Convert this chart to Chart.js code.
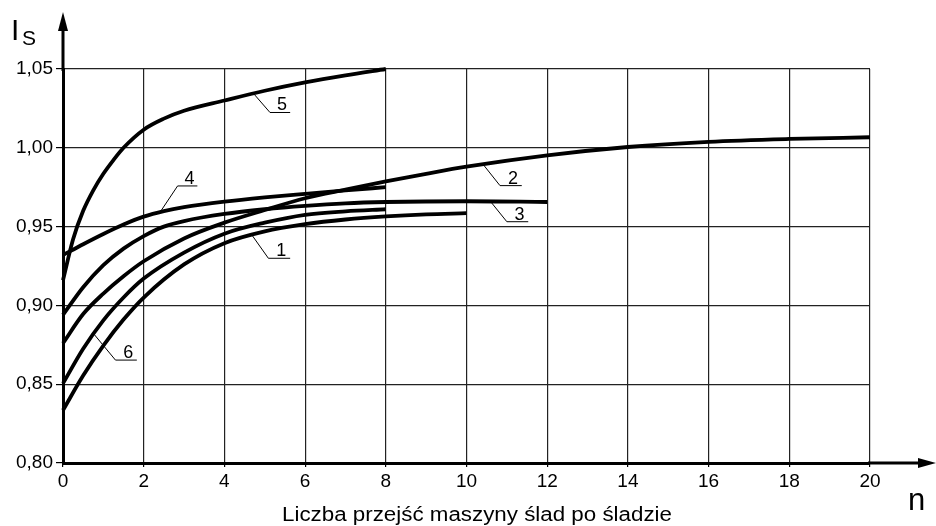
<!DOCTYPE html>
<html><head><meta charset="utf-8">
<script src="https://cdn.jsdelivr.net/npm/chart.js@4/dist/chart.umd.min.js"></script>
<style>html,body{margin:0;padding:0;background:#fff}</style>
</head><body>
<canvas id="c" width="936" height="526"></canvas>
<script>
// ---- data ----
const xTicks = [0, 2, 4, 6, 8, 10, 12, 14, 16, 18, 20];
const yTicks = [0.80, 0.85, 0.90, 0.95, 1.00, 1.05];
const yTickLabels = ['0,80', '0,85', '0,90', '0,95', '1,00', '1,05'];
const xTitle = 'Liczba przejść maszyny ślad po śladzie';
const yName = 'I', ySub = 'S', xName = 'n';

const n1 = [0, 0.5, 1, 1.5, 2, 3, 4, 5, 6, 7, 8, 9, 10];
const s1 = [0.8335, 0.8555, 0.8745, 0.891, 0.905, 0.926, 0.9395, 0.947, 0.9515, 0.9545, 0.9565, 0.9578, 0.9585];
const n2 = [0, 0.5, 1, 1.5, 2, 3, 4, 5, 6, 7, 8, 9, 10, 12, 14, 16, 18, 20];
const s2 = [0.876, 0.8945, 0.9075, 0.9185, 0.928, 0.9425, 0.9525, 0.9605, 0.968, 0.9735, 0.9787, 0.9835, 0.988, 0.9952, 1.0005, 1.0038, 1.0056, 1.0067];
const n3 = [0, 0.5, 1, 1.5, 2, 2.5, 3, 4, 5, 6, 7, 8, 10, 12];
const s3 = [0.894, 0.9115, 0.9255, 0.936, 0.944, 0.950, 0.9535, 0.958, 0.961, 0.9632, 0.9648, 0.9656, 0.9661, 0.9656];
const n4 = [0, 0.5, 1, 1.5, 2, 2.5, 3, 4, 5, 6, 7, 8];
const s4 = [0.932, 0.9388, 0.9453, 0.9513, 0.9563, 0.9598, 0.9623, 0.9658, 0.9685, 0.9708, 0.973, 0.975];
const n5 = [0, 0.25, 0.5, 0.75, 1, 1.25, 1.5, 2, 2.5, 3, 4, 5, 6, 7, 8];
const s5 = [0.916, 0.942, 0.960, 0.973, 0.9835, 0.9922, 1.0, 1.0115, 1.0185, 1.0235, 1.030, 1.0362, 1.0415, 1.046, 1.050];
const n6 = [0, 0.5, 1, 1.5, 2, 3, 4, 5, 6, 7, 8];
const s6 = [0.8505, 0.8725, 0.8905, 0.905, 0.917, 0.9335, 0.9455, 0.9525, 0.9575, 0.9597, 0.961];

// curve callouts (label, point on curve, elbow, end of underline) in data units
const callouts = [
  {text: '5', from: [4.72, 1.0345], elbow: [5.13, 1.0224], end: 5.63},
  {text: '4', from: [2.41, 0.9593], elbow: [2.84, 0.9758], end: 3.33},
  {text: '2', from: [10.42, 0.9892], elbow: [10.83, 0.976], end: 11.37},
  {text: '3', from: [10.59, 0.9661], elbow: [11.0, 0.9531], end: 11.53},
  {text: '1', from: [4.68, 0.9447], elbow: [5.09, 0.9299], end: 5.63},
  {text: '6', from: [0.76, 0.882], elbow: [1.30, 0.8653], end: 1.83}
];

const FONT = "'Liberation Sans', Arial, sans-serif";
const pts = (xs, ys) => xs.map((x, i) => ({x: x, y: ys[i]}));
const series = [[n1, s1], [n2, s2], [n3, s3], [n4, s4], [n5, s5], [n6, s6]];

const decor = {
  id: 'decor',
  afterDraw(chart) {
    const ctx = chart.ctx, a = chart.chartArea;
    const xs = chart.scales.x, ys = chart.scales.y;
    ctx.save();
    ctx.strokeStyle = '#000'; ctx.fillStyle = '#000';
    // axis extensions with arrows
    ctx.lineWidth = 3;
    ctx.beginPath();
    ctx.moveTo(a.right - 2, a.bottom); ctx.lineTo(922, a.bottom);
    ctx.moveTo(a.left, a.top + 2); ctx.lineTo(a.left, 26);
    ctx.stroke();
    ctx.beginPath();
    ctx.moveTo(936, a.bottom); ctx.lineTo(918, a.bottom - 5); ctx.lineTo(918, a.bottom + 5); ctx.closePath();
    ctx.fill();
    ctx.beginPath();
    ctx.moveTo(a.left, 12); ctx.lineTo(a.left - 5, 31); ctx.lineTo(a.left + 5, 31); ctx.closePath();
    ctx.fill();
    // axis names
    ctx.textBaseline = 'alphabetic'; ctx.textAlign = 'left';
    ctx.font = '30px ' + FONT; ctx.fillText(yName, 11, 40);
    ctx.font = '21px ' + FONT; ctx.fillText(ySub, 22, 45);
    ctx.font = '31px ' + FONT; ctx.fillText(xName, 908, 510);
    // x title, stretched to the reference width
    ctx.font = '19.5px ' + FONT;
    const w = ctx.measureText(xTitle).width;
    const k = 390 / w;
    ctx.save();
    ctx.translate(282, 521);
    ctx.scale(k, 1);
    ctx.fillText(xTitle, 0, 0);
    ctx.restore();
    // callouts
    ctx.lineWidth = 1;
    ctx.font = '18px ' + FONT;
    ctx.textAlign = 'center';
    callouts.forEach(c => {
      const fx = xs.getPixelForValue(c.from[0]), fy = ys.getPixelForValue(c.from[1]);
      const ex = xs.getPixelForValue(c.elbow[0]), ey = ys.getPixelForValue(c.elbow[1]);
      const rx = xs.getPixelForValue(c.end);
      ctx.beginPath();
      ctx.moveTo(fx, fy); ctx.lineTo(ex, ey); ctx.lineTo(rx, ey);
      ctx.stroke();
      ctx.fillText(c.text, (ex + rx) / 2 + 2, ey - 2);
    });
    ctx.restore();
  }
};

new Chart(document.getElementById('c'), {
  type: 'line',
  data: {
    datasets: series.map(s => ({
      data: pts(s[0], s[1]),
      borderColor: '#000', borderWidth: 3.8,
      pointRadius: 0, cubicInterpolationMode: 'monotone',
      fill: false, clip: false
    }))
  },
  options: {
    responsive: false, animation: false, devicePixelRatio: 1,
    layout: {padding: {left: 0, right: 66, top: 69, bottom: 0}},
    plugins: {legend: {display: false}, tooltip: {enabled: false}},
    scales: {
      x: {
        type: 'linear', min: 0, max: 20,
        afterBuildTicks: s => { s.ticks = xTicks.map(v => ({value: v})); },
        afterFit: s => { s.height = 63; },
        grid: {color: '#222', lineWidth: 1.2, tickLength: 4, tickColor: '#000'},
        border: {color: '#000', width: 3},
        ticks: {color: '#000', font: {family: FONT, size: 19}, padding: 3, maxRotation: 0, autoSkip: false}
      },
      y: {
        type: 'linear', min: 0.8, max: 1.05,
        afterBuildTicks: s => { s.ticks = yTicks.map(v => ({value: v})); },
        afterFit: s => { s.width = 63; },
        grid: {color: '#222', lineWidth: 1.2, tickLength: 7, tickColor: '#000'},
        border: {color: '#000', width: 3},
        ticks: {color: '#000', font: {family: FONT, size: 19}, padding: 3,
          callback: (v, i) => yTickLabels[i]}
      }
    }
  },
  plugins: [decor]
});
</script>
</body></html>
